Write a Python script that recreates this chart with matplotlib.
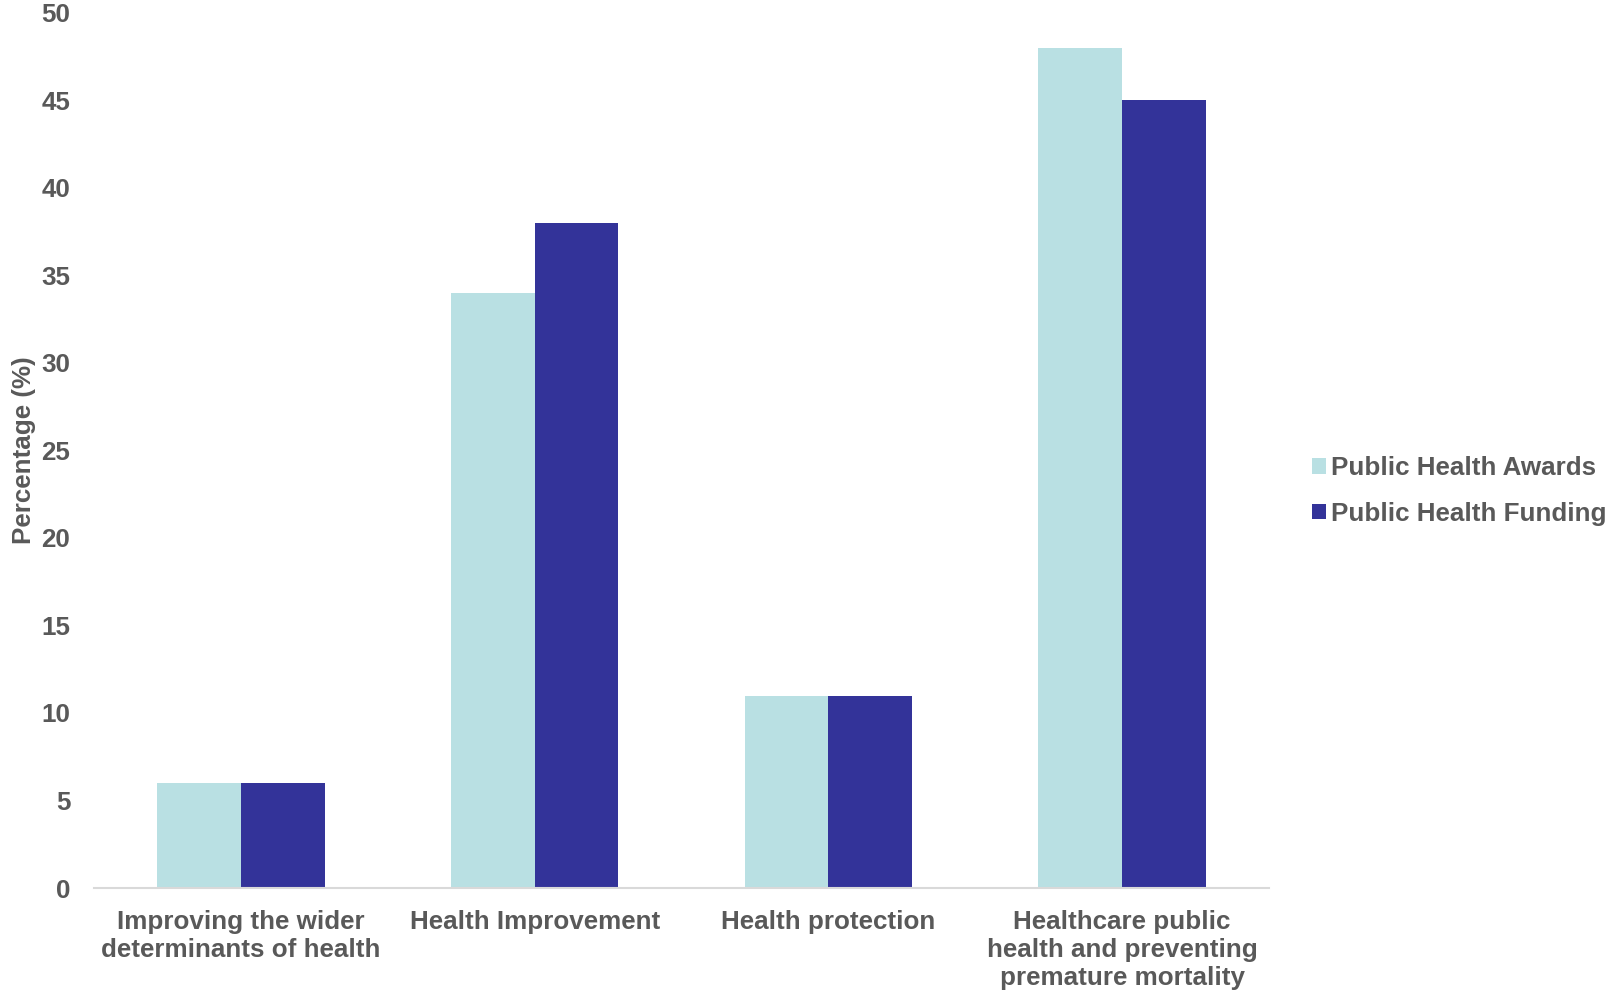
import matplotlib
matplotlib.use("Agg")
import matplotlib.pyplot as plt
import numpy as np

categories = ["Improving the wider\ndeterminants of health", "Health Improvement",
              "Health protection", "Healthcare public\nhealth and preventing\npremature mortality"]
awards = [6, 34, 11, 48]
funding = [6, 38, 11, 45]
series_names = ["Public Health Awards", "Public Health Funding"]
colors = ["#B9E0E3", "#333399"]
yticks = list(range(0, 55, 5))

plt.rcParams['font.family'] = ['Liberation Sans', 'DejaVu Sans']
txt = "#595959"
fs = 18.7

fig = plt.figure(figsize=(16.05, 9.94), dpi=100)
ax = fig.add_axes([94/1605, 1 - 888/994, (1269-94)/1605, (888-13)/994])

x = np.arange(len(categories))
w = 0.285
ax.bar(x - w/2, awards, w, color=colors[0], label=series_names[0])
ax.bar(x + w/2, funding, w, color=colors[1], label=series_names[1])

ax.set_xlim(-0.5, len(categories) - 0.5)
ax.set_ylim(0, 50)
ax.set_yticks(yticks)
ax.set_yticklabels([str(t) for t in yticks], fontsize=fs, fontweight='bold', color=txt)
ax.set_xticks(x)
ax.set_xticklabels(categories, fontsize=fs, fontweight='bold', color=txt, linespacing=1.2)
ax.tick_params(axis='both', length=0)
ax.tick_params(axis='y', pad=17)
ax.tick_params(axis='x', pad=16)
for s in ['top', 'right', 'left']:
    ax.spines[s].set_visible(False)
ax.spines['bottom'].set_color('#D9D9D9')
ax.spines['bottom'].set_linewidth(1.5)

ax.set_ylabel("Percentage (%)", fontsize=fs, fontweight='bold', color=txt, labelpad=4)

leg = fig.legend(loc='center left', bbox_to_anchor=(1312/1605, 1 - 491/994), frameon=False,
                 prop={'size': fs, 'weight': 'bold'}, handlelength=0.55, handleheight=0.55,
                 handletextpad=0.2, labelspacing=0.82, borderaxespad=0, borderpad=0)
for t in leg.get_texts():
    t.set_color(txt)

fig.savefig("out.png", dpi=100)
